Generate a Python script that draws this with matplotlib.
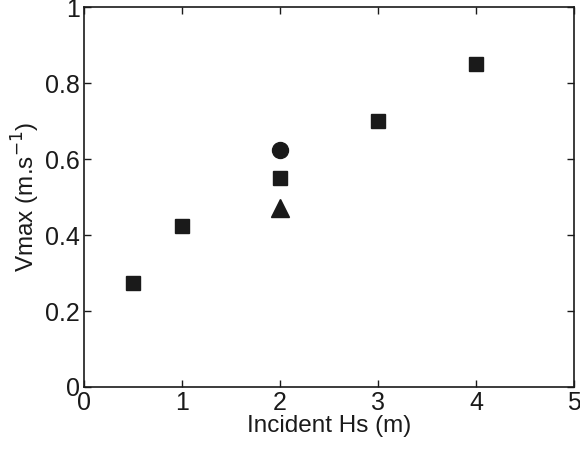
import matplotlib.pyplot as plt

plt.rcParams['font.family'] = ['Liberation Sans', 'DejaVu Sans']

# data
hs_sq = [0.5, 1, 2, 3, 4]
v_sq = [0.275, 0.425, 0.55, 0.70, 0.85]
hs_circ = [2]
v_circ = [0.625]
hs_tri = [2]
v_tri = [0.47]

fig = plt.figure(figsize=(5.8, 4.5), dpi=100)
ax = fig.add_axes([0.145, 0.14, 0.845, 0.844])

ax.plot(hs_sq, v_sq, 's', color='#1a1a1a', markersize=9.5, linestyle='none')
ax.plot(hs_circ, v_circ, 'o', color='#1a1a1a', markersize=11.5, linestyle='none')
ax.plot(hs_tri, v_tri, '^', color='#1a1a1a', markersize=12.5, linestyle='none')

ax.set_xlim(0, 5)
ax.set_ylim(0, 1)
ax.set_xticks([0, 1, 2, 3, 4, 5])
ax.set_yticks([0, 0.2, 0.4, 0.6, 0.8, 1])
ax.set_yticklabels(['0', '0.2', '0.4', '0.6', '0.8', '1'])
ax.tick_params(direction='in', top=True, right=True, labelsize=18, length=5, width=1,
               colors='#1a1a1a', pad=3)
for s in ax.spines.values():
    s.set_linewidth(1.2)
    s.set_color('#1a1a1a')

ax.set_xlabel('Incident Hs (m)', fontsize=17.5, labelpad=0, color='#1a1a1a')
ax.set_ylabel(r'Vmax (m.s$^{-1}$)', fontsize=17.5, labelpad=2, color='#1a1a1a')

fig.savefig('out.png', dpi=100)
